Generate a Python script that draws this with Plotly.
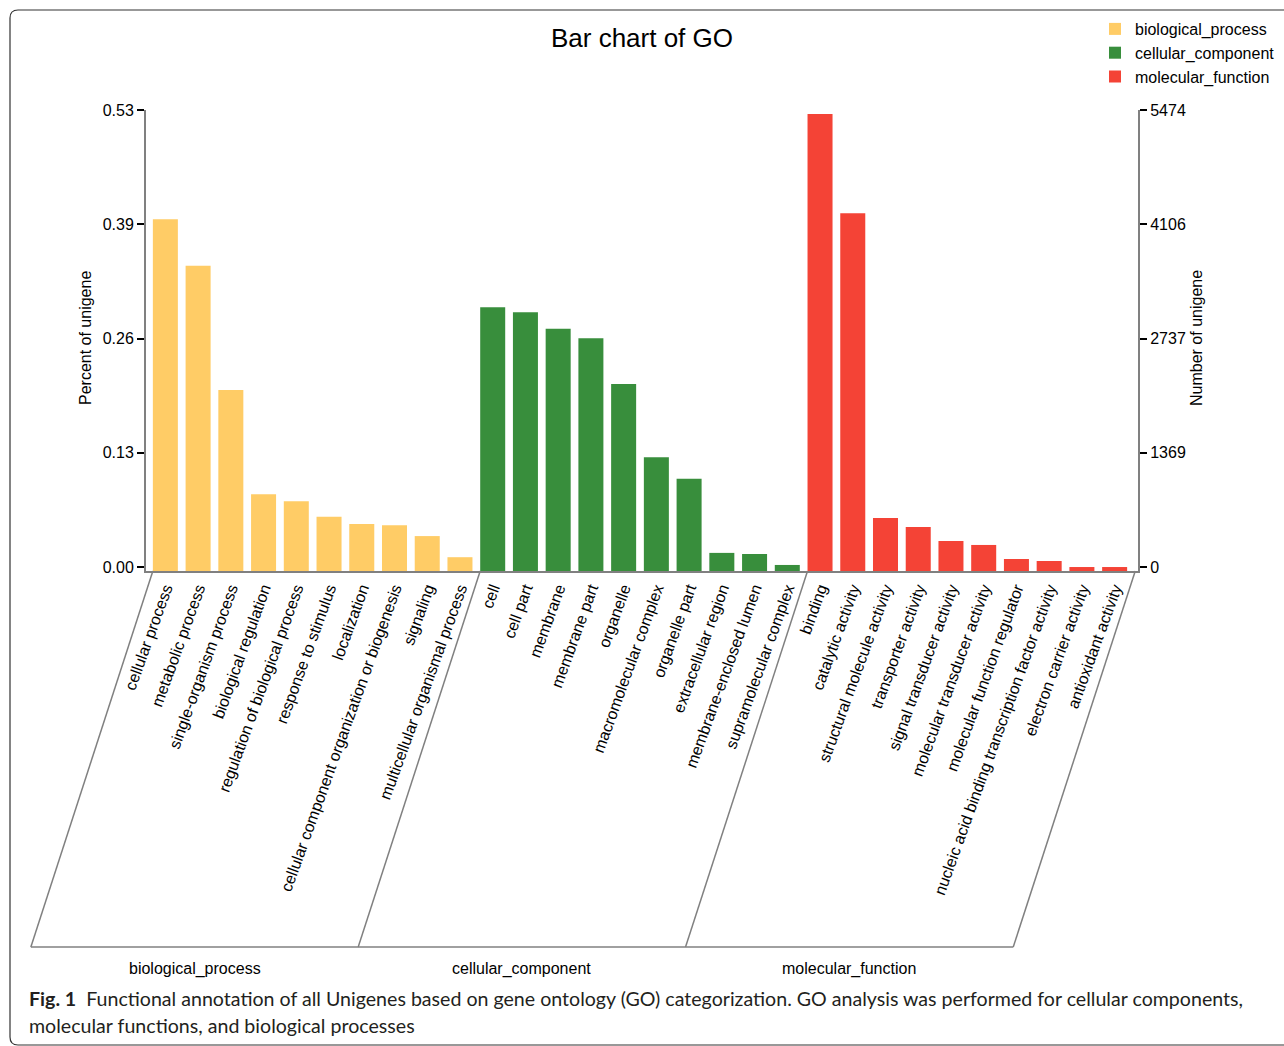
import plotly.graph_objects as go

# ---------------- data ----------------
bp_terms = ["cellular process", "metabolic process", "single-organism process",
            "biological regulation", "regulation of biological process",
            "response to stimulus", "localization",
            "cellular component organization or biogenesis", "signaling",
            "multicellular organismal process"]
bp_vals = [0.408, 0.354, 0.210, 0.089, 0.081, 0.063, 0.0545, 0.053, 0.0405, 0.016]

cc_terms = ["cell", "cell part", "membrane", "membrane part", "organelle",
            "macromolecular complex", "organelle part", "extracellular region",
            "membrane-enclosed lumen", "supramolecular complex"]
cc_vals = [0.306, 0.300, 0.281, 0.270, 0.217, 0.132, 0.107, 0.021, 0.0197, 0.007]

mf_terms = ["binding", "catalytic activity", "structural molecule activity",
            "transporter activity", "signal transducer activity",
            "molecular transducer activity", "molecular function regulator",
            "nucleic acid binding transcription factor activity",
            "electron carrier activity", "antioxidant activity"]
mf_vals = [0.530, 0.415, 0.0615, 0.051, 0.0348, 0.0302, 0.0139, 0.0116, 0.0046, 0.0046]

groups = ["biological_process", "cellular_component", "molecular_function"]
colors = ["#FFCC66", "#388E3C", "#F44336"]

left_ticks = [0, 0.1325, 0.265, 0.3975, 0.53]
left_ticktext = ["0.00", "0.13", "0.26", "0.39", "0.53"]
right_ticks = [0, 1369, 2737, 4106, 5474]
right_ticktext = ["0", "1369", "2737", "4106", "5474"]

# ---------------- geometry helpers ----------------
W, H = 1284, 1046
L, R, T, B = 146, 146, 110, 475
PW, PH = W - L - R, H - T - B
def px2x(px):
    return (px - L) / PW
def py2y(py):
    return (H - B - py) / PH

FONT = "Liberation Sans, Arial, sans-serif"

all_terms = bp_terms + cc_terms + mf_terms
n = len(all_terms)
sets = [(bp_terms, bp_vals), (cc_terms, cc_vals), (mf_terms, mf_vals)]

fig = go.Figure()
start = 0
starts = []
for (terms, vals), g, c in zip(sets, groups, colors):
    xs = list(range(start, start + len(terms)))
    starts.append(start)
    fig.add_trace(go.Bar(x=xs, y=vals, name=g, marker=dict(color=c, line=dict(width=0)),
                         width=0.764, yaxis="y"))
    start += len(terms)

# empty traces to activate display axes
fig.add_trace(go.Scatter(x=[], y=[], yaxis="y2", showlegend=False))
fig.add_trace(go.Scatter(x=[], y=[], yaxis="y3", showlegend=False))

pitch = 32.72
x_lo = -0.5 - 3 / pitch
x_hi = (n - 1) + 0.5 + 7 / pitch
def idx2paper(v):
    return (v - x_lo) / (x_hi - x_lo)
shift_px = 122  # slant of the group parallelograms
y_bot = py2y(947)

shapes = []
bounds = [idx2paper(s - 0.382) for s in starts] + [idx2paper((n - 1) + 0.63)]
dx = shift_px / PW
for b in bounds:
    shapes.append(dict(type="line", xref="paper", yref="paper", x0=b, y0=0, x1=b - dx, y1=y_bot,
                       line=dict(color="#808080", width=1.5)))
shapes.append(dict(type="line", xref="paper", yref="paper", x0=bounds[0] - dx, y0=y_bot,
                   x1=bounds[-1] - dx, y1=y_bot, line=dict(color="#808080", width=1.5)))
# figure border
x10, x_far = px2x(10), px2x(1300)
path = (f"M {x_far},{py2y(10)} L {px2x(18)},{py2y(10)} Q {x10},{py2y(10)} {x10},{py2y(18)} "
        f"L {x10},{py2y(1037)} Q {x10},{py2y(1045)} {px2x(18)},{py2y(1045)} L {x_far},{py2y(1045)}")
shapes.append(dict(type="path", xref="paper", yref="paper", path=path,
                   line=dict(color="#333333", width=1.2)))

annotations = []
for i, g in enumerate(groups):
    mid = (bounds[i] + bounds[i + 1]) / 2 - dx
    annotations.append(dict(text=g, x=mid, xref="paper", y=py2y(969), yref="paper", showarrow=False,
                            xanchor="center", yanchor="middle", font=dict(size=16, color="black", family=FONT)))
annotations.append(dict(text="Percent of unigene", x=px2x(85), y=py2y(338), xref="paper", yref="paper",
                        xanchor="center", yanchor="middle",
                        textangle=-90, showarrow=False, font=dict(size=16, color="black", family=FONT)))
annotations.append(dict(text="Number of unigene", x=px2x(1196), y=py2y(338), xref="paper", yref="paper",
                        xanchor="center", yanchor="middle",
                        textangle=-90, showarrow=False, font=dict(size=16, color="black", family=FONT)))
CAP = "Lato, Open Sans, sans-serif"
annotations.append(dict(text="<b>Fig. 1</b>  Functional annotation of all Unigenes based on gene ontology (GO) categorization. "
                             "GO analysis was performed for cellular components,",
                        x=px2x(27), y=py2y(998), xref="paper", yref="paper", xanchor="left", yanchor="middle",
                        showarrow=False, font=dict(size=19.6, color="#231f20", family=CAP)))
annotations.append(dict(text="molecular functions, and biological processes",
                        x=px2x(27), y=py2y(1025), xref="paper", yref="paper", xanchor="left", yanchor="middle",
                        showarrow=False, font=dict(size=19.6, color="#231f20", family=CAP)))

axis_common = dict(showline=True, linecolor="#808080", linewidth=2, showgrid=False, zeroline=False,
                   ticks="outside", ticklen=7, tickwidth=2, tickcolor="black",
                   tickfont=dict(size=16, color="black", family=FONT))

fig.update_layout(
    width=W, height=H, margin=dict(l=L, r=R, t=T, b=B, autoexpand=False),
    paper_bgcolor="white", plot_bgcolor="white",
    barmode="overlay",
    title=dict(text="Bar chart of GO", x=0.5, xref="paper", y=1 - 38 / H, yanchor="middle",
               font=dict(size=26, color="black", family=FONT)),
    xaxis=dict(range=[x_lo, x_hi], tickmode="array", tickvals=list(range(n)), ticktext=all_terms,
               tickangle=-70, showline=True, linecolor="#808080", linewidth=2, showgrid=False,
               zeroline=False, ticks="", tickfont=dict(size=16, color="black", family=FONT)),
    yaxis=dict(range=[0, 0.53 * 461 / 457], visible=False, fixedrange=True),
    yaxis2=dict(overlaying="y", side="left", range=[-0.53 * 4 / 457, 0.53], tickmode="array",
                tickvals=left_ticks, ticktext=left_ticktext, **axis_common),
    yaxis3=dict(overlaying="y", side="right", anchor="x", range=[-5474 * 4 / 457, 5474], tickmode="array",
                tickvals=right_ticks, ticktext=right_ticktext, **axis_common),
    legend=dict(x=px2x(1095), y=py2y(12), xanchor="left", yanchor="top", bgcolor="rgba(0,0,0,0)",
                font=dict(size=16, color="black", family=FONT), tracegroupgap=0, itemwidth=30),
    shapes=shapes, annotations=annotations, showlegend=True,
)

fig.write_html("out.html")
